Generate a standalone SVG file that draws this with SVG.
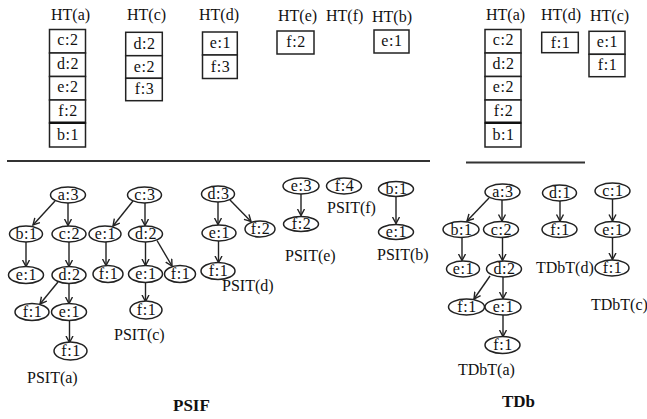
<svg xmlns="http://www.w3.org/2000/svg" width="647" height="419" viewBox="0 0 647 419" font-family="'Liberation Serif', 'DejaVu Serif', 'Times New Roman', serif">
<defs>
<marker id="ah" markerUnits="userSpaceOnUse" markerWidth="10" markerHeight="10" refX="7" refY="4" orient="auto">
<path d="M0.5,0.5 L7,4 L0.5,7.5" fill="none" stroke="#222" stroke-width="1.4"/>
</marker>
</defs>
<style>
text{font-family:'Liberation Serif','DejaVu Serif','Times New Roman',serif;fill:#111}
.h{font-size:16px}
.l{font-size:16px;text-anchor:middle;letter-spacing:0.6px}
.cap{font-size:16px}
.b{font-size:17px;font-weight:bold}
.box{fill:#fff;stroke:#222;stroke-width:1.5}
.nd{fill:#fff;stroke:#222;stroke-width:1.5}
.e{stroke:#222;stroke-width:1.4;fill:none;marker-end:url(#ah)}
.sep{stroke:#333;stroke-width:2}
</style>
<rect width="647" height="419" fill="#fff"/>

<!-- header tables -->
<g id="ht-a-left">
<text class="h" x="51" y="20">HT(a)</text>
<rect class="box" x="49.5" y="29.5" width="36" height="23.5"/>
<rect class="box" x="49.5" y="53" width="36" height="23.5"/>
<rect class="box" x="49.5" y="76.5" width="36" height="23.5"/>
<rect class="box" x="49.5" y="100" width="36" height="23"/>
<rect class="box" x="49.5" y="123" width="36" height="24"/>
<line x1="49.5" y1="122.8" x2="85.5" y2="122.8" stroke="#111" stroke-width="2.5"/>
<text class="l" x="68" y="45">c:2</text>
<text class="l" x="68" y="68.5">d:2</text>
<text class="l" x="68" y="92">e:2</text>
<text class="l" x="68" y="115.5">f:2</text>
<text class="l" x="68" y="139.5">b:1</text>
</g>
<g id="ht-c-left">
<text class="h" x="127" y="20">HT(c)</text>
<rect class="box" x="125.7" y="32.3" width="36.6" height="23.4"/>
<rect class="box" x="125.7" y="55.7" width="36.6" height="22.6"/>
<rect class="box" x="125.7" y="78.3" width="36.6" height="22.4"/>
<text class="l" x="144.5" y="48.5">d:2</text>
<text class="l" x="144.5" y="71.5">e:2</text>
<text class="l" x="144.5" y="94">f:3</text>
</g>
<g id="ht-d-left">
<text class="h" x="199" y="20">HT(d)</text>
<rect class="box" x="202.5" y="32" width="34.8" height="23"/>
<rect class="box" x="202.5" y="55" width="34.8" height="23.5"/>
<text class="l" x="220.5" y="48">e:1</text>
<text class="l" x="220.5" y="71.5">f:3</text>
</g>
<g id="ht-e-left">
<text class="h" x="278" y="20.5">HT(e)</text>
<rect class="box" x="277" y="31" width="37" height="23"/>
<text class="l" x="296" y="47">f:2</text>
</g>
<g id="ht-f-left">
<text class="h" x="326" y="21">HT(f)</text>
</g>
<g id="ht-b-left">
<text class="h" x="372" y="22">HT(b)</text>
<rect class="box" x="374" y="30" width="35" height="23"/>
<text class="l" x="392" y="46">e:1</text>
</g>
<g id="ht-a-right">
<text class="h" x="486" y="20">HT(a)</text>
<rect class="box" x="485" y="29.5" width="36" height="23.5"/>
<rect class="box" x="485" y="53" width="36" height="23.5"/>
<rect class="box" x="485" y="76.5" width="36" height="23.5"/>
<rect class="box" x="485" y="100" width="36" height="23"/>
<rect class="box" x="485" y="123" width="36" height="24"/>
<line x1="485" y1="122.8" x2="521" y2="122.8" stroke="#111" stroke-width="2.5"/>
<text class="l" x="503.5" y="45">c:2</text>
<text class="l" x="503.5" y="68.5">d:2</text>
<text class="l" x="503.5" y="92">e:2</text>
<text class="l" x="503.5" y="115.5">f:2</text>
<text class="l" x="503.5" y="139.5">b:1</text>
</g>
<g id="ht-d-right">
<text class="h" x="541" y="20">HT(d)</text>
<rect class="box" x="541.7" y="32.3" width="36.6" height="20.4"/>
<text class="l" x="560.5" y="47.5">f:1</text>
</g>
<g id="ht-c-right">
<text class="h" x="590" y="20.5">HT(c)</text>
<rect class="box" x="589" y="31.3" width="36" height="23"/>
<rect class="box" x="589" y="54.3" width="36" height="22.4"/>
<text class="l" x="607.5" y="47">e:1</text>
<text class="l" x="607.5" y="70">f:1</text>
</g>

<line class="sep" x1="7" y1="161" x2="430" y2="161"/>
<line class="sep" x1="466" y1="162.5" x2="585" y2="162.5"/>

<!-- connectors -->
<g id="connectors">
<line class="e" x1="55" y1="201" x2="33" y2="225"/>
<line class="e" x1="68" y1="203" x2="68" y2="225.5"/>
<line class="e" x1="26" y1="242" x2="26" y2="266.5"/>
<line class="e" x1="69" y1="242" x2="69" y2="266.5"/>
<line class="e" x1="58" y1="282" x2="40" y2="304"/>
<line class="e" x1="69" y1="283" x2="69" y2="303.5"/>
<line class="e" x1="69.5" y1="320" x2="69.5" y2="342.5"/>

<line class="e" x1="133" y1="201" x2="113" y2="226"/>
<line class="e" x1="145" y1="203" x2="145" y2="225.5"/>
<line class="e" x1="106" y1="242" x2="106" y2="265.5"/>
<line class="e" x1="145.5" y1="242" x2="145.5" y2="265.5"/>
<line class="e" x1="157" y1="240.5" x2="172" y2="266"/>
<line class="e" x1="145.5" y1="282" x2="145.5" y2="301.5"/>

<line class="e" x1="218" y1="202" x2="218" y2="224.5"/>
<line class="e" x1="230" y1="200" x2="251" y2="221.5"/>
<line class="e" x1="218.5" y1="241" x2="218.5" y2="262.5"/>

<line class="e" x1="301" y1="194" x2="301" y2="215.5"/>
<line class="e" x1="396" y1="197" x2="396" y2="223.5"/>

<line class="e" x1="489" y1="198" x2="467" y2="221"/>
<line class="e" x1="502" y1="200" x2="502" y2="221"/>
<line class="e" x1="462" y1="237.5" x2="462" y2="260.5"/>
<line class="e" x1="502.5" y1="237.5" x2="502.5" y2="260.5"/>
<line class="e" x1="490" y1="276" x2="474" y2="299"/>
<line class="e" x1="503" y1="277" x2="503" y2="298.5"/>
<line class="e" x1="503" y1="315" x2="503" y2="336.5"/>

<line class="e" x1="560" y1="201" x2="560" y2="221"/>
<line class="e" x1="612.5" y1="199" x2="612.5" y2="221"/>
<line class="e" x1="612.5" y1="237.5" x2="612.5" y2="259.5"/>
</g>

<!-- PSIT(a) -->
<g id="psit-a">
<ellipse class="nd" cx="68" cy="195" rx="17.5" ry="8"/><text class="l" x="68.5" y="200">a:3</text>
<ellipse class="nd" cx="26" cy="234" rx="16.5" ry="8"/><text class="l" x="26.5" y="239">b:1</text>
<ellipse class="nd" cx="69" cy="234" rx="17" ry="8"/><text class="l" x="69.5" y="239">c:2</text>
<ellipse class="nd" cx="26" cy="275" rx="17.5" ry="8.5"/><text class="l" x="26.5" y="280">e:1</text>
<ellipse class="nd" cx="69" cy="275" rx="17" ry="8.5"/><text class="l" x="69.5" y="280">d:2</text>
<ellipse class="nd" cx="32" cy="312" rx="17" ry="8.5"/><text class="l" x="32.5" y="317">f:1</text>
<ellipse class="nd" cx="69" cy="312" rx="17.5" ry="8.5"/><text class="l" x="69.5" y="317">e:1</text>
<ellipse class="nd" cx="70.5" cy="351" rx="16.5" ry="9"/><text class="l" x="71" y="356">f:1</text>
<text class="cap" x="27" y="383">PSIT(a)</text>
</g>
<!-- PSIT(c) -->
<g id="psit-c">
<ellipse class="nd" cx="144.5" cy="195" rx="17" ry="8"/><text class="l" x="145" y="200">c:3</text>
<ellipse class="nd" cx="105" cy="234" rx="16" ry="8"/><text class="l" x="105.5" y="239">e:1</text>
<ellipse class="nd" cx="145.5" cy="234" rx="17" ry="8"/><text class="l" x="146" y="239">d:2</text>
<ellipse class="nd" cx="108" cy="274" rx="15" ry="8.5"/><text class="l" x="108.5" y="279">f:1</text>
<ellipse class="nd" cx="145.5" cy="274" rx="17" ry="8.5"/><text class="l" x="146" y="279">e:1</text>
<ellipse class="nd" cx="180" cy="274" rx="15.5" ry="8.5"/><text class="l" x="180.5" y="279">f:1</text>
<ellipse class="nd" cx="146" cy="310" rx="16" ry="9"/><text class="l" x="146.5" y="315">f:1</text>
<text class="cap" x="114" y="340">PSIT(c)</text>
</g>
<!-- PSIT(d) -->
<g id="psit-d">
<ellipse class="nd" cx="218" cy="194" rx="16.5" ry="8"/><text class="l" x="218.5" y="199">d:3</text>
<ellipse class="nd" cx="219" cy="233" rx="17" ry="8"/><text class="l" x="219.5" y="238">e:1</text>
<ellipse class="nd" cx="260" cy="229" rx="15" ry="8"/><text class="l" x="260.5" y="234">f:2</text>
<ellipse class="nd" cx="218" cy="271" rx="17" ry="8.5"/><text class="l" x="218.5" y="276">f:1</text>
<text class="cap" x="222" y="291">PSIT(d)</text>
</g>
<!-- PSIT(e) -->
<g id="psit-e">
<ellipse class="nd" cx="301" cy="186" rx="18" ry="8"/><text class="l" x="301.5" y="191">e:3</text>
<ellipse class="nd" cx="301" cy="224" rx="17.5" ry="7.5"/><text class="l" x="301.5" y="229">f:2</text>
<text class="cap" x="285" y="260.5">PSIT(e)</text>
</g>
<!-- PSIT(f) -->
<g id="psit-f">
<ellipse class="nd" cx="344" cy="186" rx="17.5" ry="8"/><text class="l" x="344.5" y="191">f:4</text>
<text class="cap" x="327" y="213">PSIT(f)</text>
</g>
<!-- PSIT(b) -->
<g id="psit-b">
<ellipse class="nd" cx="396" cy="189" rx="17.5" ry="7.5"/><text class="l" x="396.5" y="194">b:1</text>
<ellipse class="nd" cx="396" cy="232" rx="17.5" ry="7.5"/><text class="l" x="396.5" y="237">e:1</text>
<text class="cap" x="377" y="260">PSIT(b)</text>
</g>
<!-- TDbT(a) -->
<g id="tdbt-a">
<ellipse class="nd" cx="502.5" cy="192" rx="17.5" ry="8"/><text class="l" x="503" y="197">a:3</text>
<ellipse class="nd" cx="461" cy="229.5" rx="18" ry="8"/><text class="l" x="461.5" y="234.5">b:1</text>
<ellipse class="nd" cx="501" cy="229.5" rx="17.5" ry="8"/><text class="l" x="501.5" y="234.5">c:2</text>
<ellipse class="nd" cx="463" cy="269" rx="16.5" ry="8"/><text class="l" x="463.5" y="274">e:1</text>
<ellipse class="nd" cx="504" cy="269" rx="17.5" ry="8"/><text class="l" x="504.5" y="274">d:2</text>
<ellipse class="nd" cx="466.5" cy="307" rx="18" ry="8"/><text class="l" x="467" y="312">f:1</text>
<ellipse class="nd" cx="503" cy="307" rx="18" ry="8"/><text class="l" x="503.5" y="312">e:1</text>
<ellipse class="nd" cx="502.5" cy="345" rx="17.5" ry="8.5"/><text class="l" x="503" y="350">f:1</text>
<text class="cap" x="458" y="375">TDbT(a)</text>
</g>
<!-- TDbT(d) -->
<g id="tdbt-d">
<ellipse class="nd" cx="559.5" cy="193" rx="17" ry="8"/><text class="l" x="560" y="198">d:1</text>
<ellipse class="nd" cx="559.5" cy="229.5" rx="17.5" ry="8"/><text class="l" x="560" y="234.5">f:1</text>
<text class="cap" x="536" y="273">TDbT(d)</text>
</g>
<!-- TDbT(c) -->
<g id="tdbt-c">
<ellipse class="nd" cx="612.5" cy="191" rx="17.5" ry="8"/><text class="l" x="613" y="196">c:1</text>
<ellipse class="nd" cx="612.5" cy="229.5" rx="17.5" ry="8"/><text class="l" x="613" y="234.5">e:1</text>
<ellipse class="nd" cx="612" cy="268" rx="17" ry="8"/><text class="l" x="612.5" y="273">f:1</text>
<text class="cap" x="591" y="310">TDbT(c)</text>
</g>

<text class="b" x="173" y="410.5">PSIF</text>
<text class="b" x="502" y="407">TDb</text>
</svg>
